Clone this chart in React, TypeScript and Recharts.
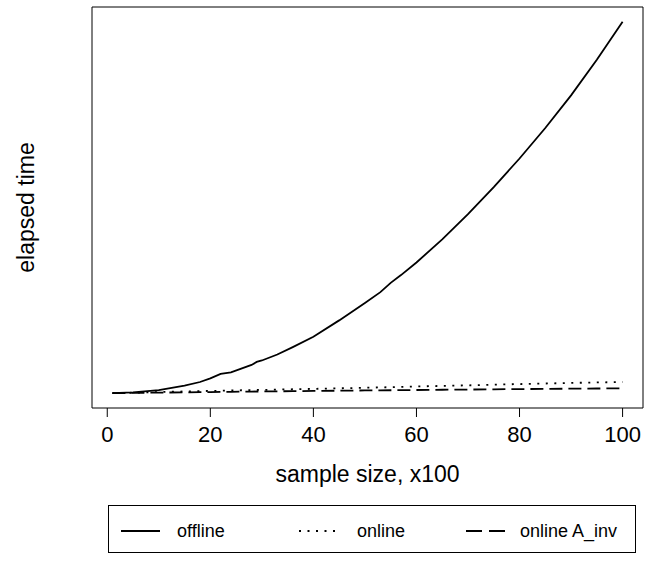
import React from 'react';
import { LineChart, Line, XAxis, YAxis, ReferenceArea, Label } from 'recharts';

const sampleSize = [1, 5, 10, 15, 18, 20, 22, 24, 26, 28, 29, 30, 33, 36, 40, 45, 50, 53, 55, 57, 60, 65, 70, 75, 80, 85, 90, 95, 100];
const offline = [0, 0.2, 0.8, 2.0, 3.0, 4.0, 5.2, 5.6, 6.6, 7.6, 8.4, 8.8, 10.4, 12.4, 15.2, 19.6, 24.3, 27.2, 29.7, 31.8, 35.2, 41.4, 48.2, 55.5, 63.2, 71.4, 80.2, 89.8, 100];
const online = [0, 0.12, 0.3, 0.45, 0.54, 0.6, 0.66, 0.72, 0.78, 0.82, 0.85, 0.87, 0.96, 1.05, 1.15, 1.3, 1.45, 1.55, 1.62, 1.68, 1.8, 1.95, 2.1, 2.28, 2.45, 2.6, 2.75, 2.88, 3.0];
const onlineAinv = [0, 0.06, 0.15, 0.22, 0.27, 0.3, 0.33, 0.36, 0.39, 0.42, 0.44, 0.45, 0.5, 0.54, 0.6, 0.66, 0.72, 0.76, 0.78, 0.8, 0.85, 0.91, 0.97, 1.04, 1.1, 1.15, 1.2, 1.25, 1.3];
const xTicks = [0, 20, 40, 60, 80, 100];
const seriesNames = ['offline', 'online', 'online A_inv'];
const xLabel = 'sample size, x100';
const yLabel = 'elapsed time';

const data = sampleSize.map((n, i) => ({
  n,
  offline: offline[i],
  online: online[i],
  onlineAinv: onlineAinv[i],
}));

const X_MIN = -2.96;
const X_MAX = 103.96;
const Y_MIN = -4;
const Y_MAX = 104;
const FONT = '"Liberation Sans", Arial, Helvetica, sans-serif';

const LegendBox = () => (
  <svg width={646} height={80} style={{ position: 'absolute', left: 0, top: 480 }}>
    <rect x={108.5} y={25.5} width={527} height={47} fill="none" stroke="#000" strokeWidth={1} />
    <line x1={121} x2={160} y1={51} y2={51} stroke="#000" strokeWidth={1.8} />
    <text x={177} y={57} fontSize={18} fontFamily={FONT} fill="#000">{seriesNames[0]}</text>
    <line x1={299} x2={341} y1={51} y2={51} stroke="#000" strokeWidth={1.8} strokeDasharray="2 6.5" />
    <text x={357} y={57} fontSize={18} fontFamily={FONT} fill="#000">{seriesNames[1]}</text>
    <line x1={466} x2={505} y1={51} y2={51} stroke="#000" strokeWidth={1.8} strokeDasharray="16 7" />
    <text x={520} y={57} fontSize={18} fontFamily={FONT} fill="#000">{seriesNames[2]}</text>
  </svg>
);

const YLabelOverlay = () => (
  <svg width={60} height={420} style={{ position: 'absolute', left: 0, top: 0 }}>
    <text
      x={34}
      y={207.5}
      transform="rotate(-90, 34, 207.5)"
      textAnchor="middle"
      fontSize={23}
      fontFamily={FONT}
      fill="#000"
    >
      {yLabel}
    </text>
  </svg>
);

export default function App() {
  return (
    <div style={{ position: 'absolute', left: 0, top: 0, width: 646, height: 567, background: '#fff' }}>
      <LineChart
        width={646}
        height={567}
        data={data}
        margin={{ top: 7, right: 3, left: 92, bottom: 99 }}
        style={{ fontFamily: FONT }}
      >
        <XAxis
          dataKey="n"
          type="number"
          domain={[X_MIN, X_MAX]}
          allowDataOverflow
          ticks={xTicks}
          axisLine={false}
          tickLine={{ stroke: '#000', strokeWidth: 1 }}
          tickSize={9}
          tickMargin={9}
          height={60}
          tick={{ fill: '#000', fontSize: 22, fontFamily: FONT }}
          interval={0}
        >
          <Label
            content={({ viewBox }: any) => (
              <text
                x={viewBox.x + viewBox.width / 2}
                y={482}
                textAnchor="middle"
                fontSize={23}
                fontFamily={FONT}
                fill="#000"
              >
                {xLabel}
              </text>
            )}
          />
        </XAxis>
        <YAxis
          type="number"
          domain={[Y_MIN, Y_MAX]}
          allowDataOverflow
          width={0}
          tick={false}
          axisLine={false}
          tickLine={false}
        />
        <ReferenceArea x1={X_MIN} x2={X_MAX} y1={Y_MIN} y2={Y_MAX} fill="none" stroke="#000" strokeWidth={1} ifOverflow="visible" />
        <Line type="linear" dataKey="offline" stroke="#000" strokeWidth={1.8} dot={false} isAnimationActive={false} />
        <Line type="linear" dataKey="online" stroke="#000" strokeWidth={1.8} strokeDasharray="2 6.5" dot={false} isAnimationActive={false} />
        <Line type="linear" dataKey="onlineAinv" stroke="#000" strokeWidth={1.8} strokeDasharray="13 6" dot={false} isAnimationActive={false} />
      </LineChart>
      <YLabelOverlay />
      <LegendBox />
    </div>
  );
}
